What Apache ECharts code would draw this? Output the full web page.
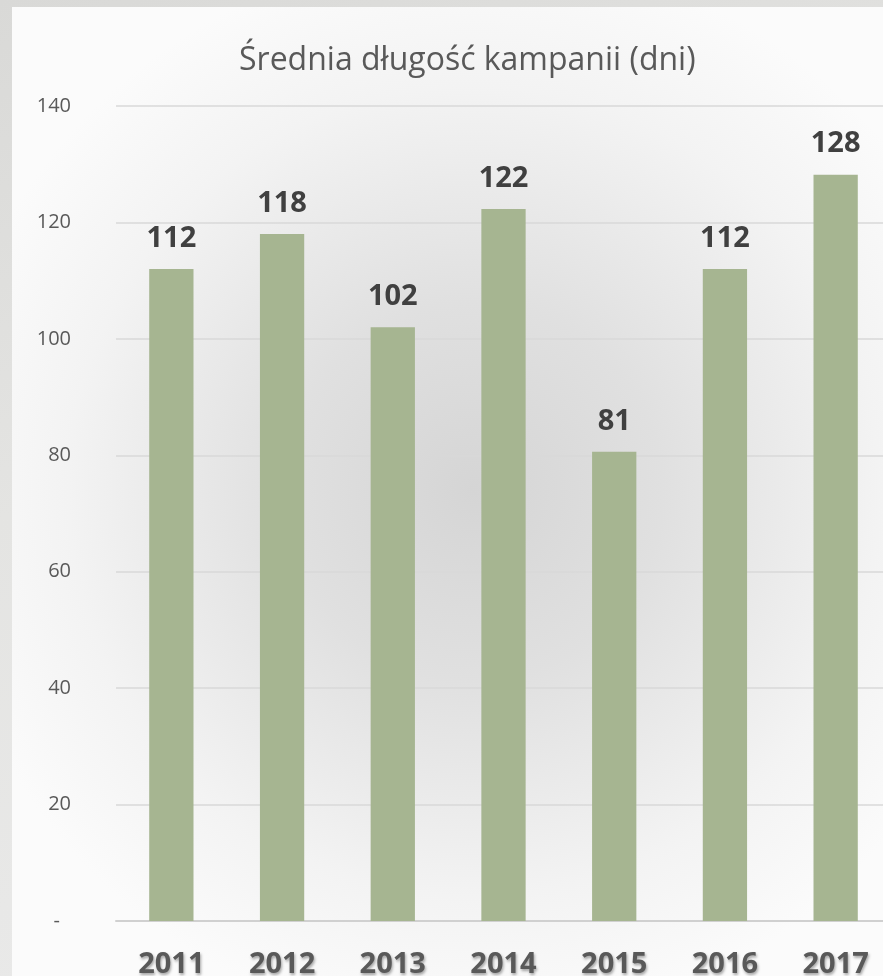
<!DOCTYPE html>
<html><head><meta charset="utf-8">
<script src="https://cdn.jsdelivr.net/npm/echarts@6/dist/echarts.min.js"></script>
<style>
html,body{margin:0;padding:0;width:883px;height:976px;overflow:hidden;
background:linear-gradient(160deg,#d9d9d7 0%,#e4e4e2 40%,#ececec 100%);}
#c{position:absolute;left:12px;top:7px;width:871px;height:969px;}
</style></head><body>
<div id="c"></div>
<script>
const title = 'Średnia długość kampanii (dni)';
const years = ['2011','2012','2013','2014','2015','2016','2017'];
const values = [112, 118, 102, 122.3, 80.6, 112, 128.2];
const yTicks = {min: 0, max: 140, interval: 20};
const FONT = 'Open Sans';
const chart = echarts.init(document.getElementById('c'), null, {renderer:'canvas'});
chart.setOption({
  animation:false,
  backgroundColor:{type:'radial', x:0.53, y:0.5, r:0.62,
    colorStops:[{offset:0,color:'#d5d5d5'},{offset:0.35,color:'#e0e0e0'},{offset:0.75,color:'#f3f3f3'},{offset:1,color:'#fbfbfb'}]},
  title:{text:title, left:222, top:33,
    textStyle:{fontFamily:FONT, fontWeight:'normal', fontSize:32, color:'#595959'}},
  grid:{left:104, top:99, bottom:55, right:-8, containLabel:false, outerBoundsMode:'none'},
  xAxis:{type:'category', data:years,
    axisLine:{lineStyle:{color:'#d0d0d0', width:2}},
    axisTick:{show:false},
    axisLabel:{margin:29, fontFamily:FONT, fontWeight:'bold', fontSize:29, color:'#595959',
      textShadowColor:'rgba(0,0,0,0.35)', textShadowBlur:3, textShadowOffsetX:1, textShadowOffsetY:2}},
  yAxis:{type:'value', min:yTicks.min, max:yTicks.max, interval:yTicks.interval,
    axisLine:{show:false}, axisTick:{show:false},
    splitLine:{lineStyle:{color:'#d9d9d9', width:1.5}},
    axisLabel:{margin:45, fontFamily:FONT, fontSize:20, color:'#595959',
      formatter:function(v){return v===0?'{d|-}':String(v);},
      rich:{d:{fontFamily:FONT, fontSize:20, color:'#595959', padding:[0,11,0,0]}}}},
  series:[{type:'bar', data:values, barWidth:'40%',
    itemStyle:{color:'#a6b591'},
    label:{show:true, position:'top', distance:16, fontFamily:FONT, fontWeight:'bold', fontSize:29, color:'#404040',
      formatter:function(p){return Math.round(p.value);}}}]
});
</script></body></html>
